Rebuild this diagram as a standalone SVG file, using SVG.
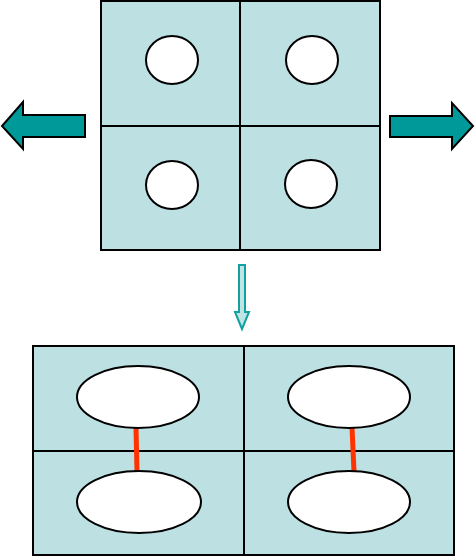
<svg xmlns="http://www.w3.org/2000/svg" width="475" height="557" viewBox="0 0 475 557">
<style>
.cell{fill:#bde0e3;stroke:#000;stroke-width:2}
.grid{stroke:#000;stroke-width:2;fill:none}
.hole{fill:#fff;stroke:#000;stroke-width:2}
.bond{stroke:#ff3300;stroke-width:5;fill:none}
.big{fill:#009999;stroke:#000;stroke-width:2;stroke-linejoin:miter}
.small{fill:#bfe4e4;stroke:#12a0a0;stroke-width:2}
</style>
<rect width="475" height="557" fill="#fff"/>
<g id="top-grid">
<rect class="cell" x="101" y="1" width="279" height="249"/>
<line class="grid" x1="240" y1="1" x2="240" y2="250"/>
<line class="grid" x1="101" y1="126" x2="380" y2="126"/>
<ellipse class="hole" cx="172" cy="60" rx="26" ry="24"/>
<ellipse class="hole" cx="312" cy="60" rx="26" ry="24"/>
<ellipse class="hole" cx="172" cy="185" rx="26" ry="24"/>
<ellipse class="hole" cx="311" cy="184" rx="26" ry="24"/>
</g>
<g id="bottom-grid">
<rect class="cell" x="33" y="346" width="421" height="209"/>
<line class="grid" x1="244" y1="346" x2="244" y2="555"/>
<line class="grid" x1="33" y1="451" x2="454" y2="451"/>
</g>
<g id="connectors">
<line class="bond" x1="136" y1="427" x2="137" y2="472"/>
<line class="bond" x1="352" y1="427" x2="354" y2="472"/>
<path id="left-arrow" class="big" d="M85 115 L23 115 L23 102 L2 126 L23 149 L23 137 L85 137 Z"/>
<path id="right-arrow" class="big" d="M390 116 L452 116 L452 103 L473 126 L452 149 L452 137 L390 137 Z"/>
<path id="down-arrow" class="small" d="M239 265 L245 265 L245 312 L249 312 L242 329 L235 312 L239 312 Z"/>
</g>
<g id="bottom-holes">
<ellipse class="hole" cx="138" cy="397" rx="61" ry="31"/>
<ellipse class="hole" cx="349" cy="397" rx="61" ry="31"/>
<ellipse class="hole" cx="139" cy="502" rx="62" ry="31"/>
<ellipse class="hole" cx="349" cy="502" rx="61" ry="31"/>
</g>
</svg>
